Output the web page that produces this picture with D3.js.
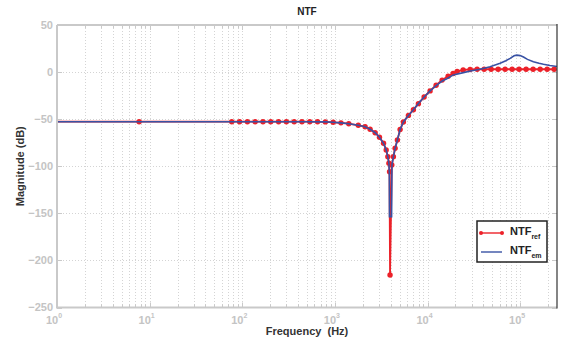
<!DOCTYPE html>
<html>
<head>
<meta charset="utf-8">
<script src="https://cdn.jsdelivr.net/npm/d3@7"></script>
<style>
  body { margin: 0; background: #fff; }
  text { font-family: "Liberation Sans", Arial, sans-serif; }
</style>
</head>
<body>
<div id="chart"></div>
<script>
// NTF magnitude response

// reference NTF (red, with markers)
const refFreq = [1, 7.7, 77, 93.5, 113.6, 137.8, 167.3, 203, 246.6, 299.4, 363.4, 441, 535.5, 650, 789, 958,
  1163, 1412, 1790, 2120, 2400, 2720, 3030, 3350, 3580, 3730, 3830, 3890, 3940,
  4115, 4285, 4470, 4730, 5060, 5490, 6220, 7040, 7970, 9190, 10660, 12380, 14380, 16690, 18900,
  20880, 24250, 28820, 34330, 40860, 48620, 57860, 68860, 81950, 97520, 116000, 138100, 164400,
  195700, 232900];
const refDb = [-52.7, -52.7, -52.7, -52.7, -52.7, -52.7, -52.7, -52.7, -52.7, -52.7, -52.7, -52.7, -52.7, -52.8, -52.9, -53.3,
  -53.9, -54.8, -56.5, -58.0, -60.7, -64.4, -69.2, -75.6, -82.7, -89.8, -96.8, -105.8, -215.5,
  -98.6, -89.8, -80.9, -72.1, -61.0, -53.0, -46.0, -40.0, -33.5, -26.5, -20.0, -14.0, -8.5, -4.5, -1.5,
  0.8, 2.2, 2.8, 3.0, 3.0, 3.0, 3.0, 3.0, 3.0, 3.0, 3.0, 3.0, 3.0,
  3.0, 3.0];

// estimated NTF (blue line)
const emFreq = [1, 500, 789, 958, 1163, 1412, 1790, 2120, 2400, 2720, 3030, 3350, 3580, 3730, 3830, 3870,
  3885, 4095, 4130, 4285, 4470, 4730, 5060, 5490, 6220, 7040, 7970, 9190, 10660, 12380, 14380,
  16150, 19000, 24400, 30000, 37000, 47400, 60800, 70000, 78000, 86000, 92000, 100000, 108600,
  120000, 139000, 160000, 178500, 210000, 250000];
const emDb = [-52.7, -52.7, -52.9, -53.3, -53.9, -54.8, -56.5, -58.0, -60.7, -64.4, -69.2, -75.6, -82.7, -89.8, -96.8, -105.8,
  -153.5, -153.5, -98.6, -89.8, -80.9, -72.1, -61.0, -53.0, -46.0, -40.0, -33.5, -26.5, -20.0, -14.5, -9.5,
  -7.0, -3.0, -0.6, 1.5, 3.0, 5.7, 9.3, 12.0, 14.6, 17.3, 18.0, 17.5, 16.0,
  13.5, 11.0, 9.3, 8.3, 7.0, 6.0];

const yTicks = [50, 0, -50, -100, -150, -200, -250];
const xDecades = [0, 1, 2, 3, 4, 5];
const legendNames = [["NTF", "ref"], ["NTF", "em"]];

const width = 564, height = 345;
const margin = {top: 25, right: 7, bottom: 37.5, left: 57};
const red = "#ec2129", blue = "#3952a4";
const axisGrey = "#c9c9c9", labelGrey = "#c4c4c4";

const svg = d3.select("#chart").append("svg")
  .attr("width", width).attr("height", height);

const x = d3.scaleLog().domain([1, 2.5e5]).range([margin.left, width - margin.right]);
const y = d3.scaleLinear().domain([-250, 50]).range([height - margin.bottom, margin.top]);
const x0 = margin.left, x1 = width - margin.right, y0 = height - margin.bottom, y1 = margin.top;

// minor + major frequency positions for grid
const xGridVals = [];
xDecades.forEach(function(d) {
  for (let m = 1; m < 10; m++) {
    const v = m * Math.pow(10, d);
    if (v <= 2.5e5) xGridVals.push(v);
  }
});

const grid = svg.append("g").attr("stroke", "#d4d4d4").attr("stroke-width", 1)
  .attr("stroke-dasharray", "1,2");
grid.selectAll(".vg").data(xGridVals.filter(v => v > 1)).enter().append("line")
  .attr("x1", d => Math.round(x(d)) + 0.5).attr("x2", d => Math.round(x(d)) + 0.5)
  .attr("y1", y1).attr("y2", y0);
grid.selectAll(".hg").data(yTicks.filter(v => v > -250 && v < 50)).enter().append("line")
  .attr("y1", d => Math.round(y(d)) + 0.5).attr("y2", d => Math.round(y(d)) + 0.5)
  .attr("x1", x0).attr("x2", x1);

// tick marks (inward) on all four sides
const ticks = svg.append("g").attr("stroke", axisGrey).attr("stroke-width", 1);
xGridVals.forEach(function(v) {
  const major = Number.isInteger(Math.log10(v));
  const len = major ? 5 : 3;
  const px = Math.round(x(v)) + 0.5;
  ticks.append("line").attr("x1", px).attr("x2", px).attr("y1", y0).attr("y2", y0 - len);
  ticks.append("line").attr("x1", px).attr("x2", px).attr("y1", y1).attr("y2", y1 + len);
});
yTicks.forEach(function(v) {
  const py = Math.round(y(v)) + 0.5;
  ticks.append("line").attr("x1", x0).attr("x2", x0 + 5).attr("y1", py).attr("y2", py);
  ticks.append("line").attr("x1", x1).attr("x2", x1 - 5).attr("y1", py).attr("y2", py);
});

// reference line + markers
const line = d3.line().x(d => x(d[0])).y(d => y(d[1]));
const refData = refFreq.map((f, i) => [f, refDb[i]]);
const emData = emFreq.map((f, i) => [f, emDb[i]]);

svg.append("path").datum(refData).attr("d", line)
  .attr("fill", "none").attr("stroke", red).attr("stroke-width", 1.8);
// first sample sits on the axis and its marker is hidden there
svg.append("g").selectAll("circle").data(refData.slice(1)).enter().append("circle")
  .attr("cx", d => x(d[0])).attr("cy", d => y(d[1])).attr("r", 2.7)
  .attr("fill", red);
svg.append("path").datum(emData).attr("d", line)
  .attr("fill", "none").attr("stroke", blue).attr("stroke-width", 1.6);

// frame
svg.append("path")
  .attr("d", `M${x0},${y1}H${x1}M${x0},${y1}V${y0}H${x1}`)
  .attr("fill", "none").attr("stroke", axisGrey).attr("stroke-width", 2);
svg.append("line").attr("x1", x1).attr("x2", x1).attr("y1", y1 - 1).attr("y2", y0 + 1)
  .attr("stroke", "#333").attr("stroke-width", 1.2);

// y tick labels
svg.append("g").selectAll("text").data(yTicks).enter().append("text")
  .attr("x", x0 - 4).attr("y", d => y(d)).attr("dy", "0.35em")
  .attr("text-anchor", "end").attr("fill", labelGrey)
  .attr("font-size", 11).attr("font-weight", "bold")
  .text(d => d < 0 ? "\u2212" + Math.abs(d) : d);

// x tick labels: 10^n
const xl = svg.append("g").selectAll("text").data(xDecades).enter().append("text")
  .attr("x", d => x(Math.pow(10, d)) - 3).attr("y", y0 + 16)
  .attr("text-anchor", "middle").attr("fill", labelGrey)
  .attr("font-size", 11).attr("font-weight", "bold");
xl.append("tspan").text("10");
xl.append("tspan").attr("dy", -6).attr("font-size", 7).text(d => d);

// titles
svg.append("text").attr("x", (x0 + x1) / 2).attr("y", 15)
  .attr("text-anchor", "middle").attr("font-size", 10).attr("font-weight", "bold")
  .attr("fill", "#222").text("NTF");
svg.append("text").attr("x", (x0 + x1) / 2).attr("y", 335)
  .attr("text-anchor", "middle").attr("font-size", 11).attr("font-weight", "bold")
  .attr("fill", "#333").attr("xml:space", "preserve").text("Frequency  (Hz)");
svg.append("text").attr("transform", `translate(24,${(y0 + y1) / 2}) rotate(-90)`)
  .attr("text-anchor", "middle").attr("font-size", 11).attr("font-weight", "bold")
  .attr("fill", "#333").text("Magnitude (dB)");

// legend
const lg = svg.append("g").attr("transform", "translate(477,221)");
lg.append("rect").attr("width", 70).attr("height", 41)
  .attr("fill", "#fff").attr("stroke", "#222").attr("stroke-width", 1.5);
const colors = [red, blue];
legendNames.forEach(function(n, i) {
  const ly = 12 + i * 19;
  lg.append("line").attr("x1", 4).attr("x2", 25).attr("y1", ly).attr("y2", ly)
    .attr("stroke", colors[i]).attr("stroke-width", 1.4);
  if (i === 0) {
    lg.selectAll(".lm").data([4, 25]).enter().append("circle")
      .attr("cx", d => d).attr("cy", ly).attr("r", 2).attr("fill", red);
  }
  const t = lg.append("text").attr("x", 33).attr("y", ly + 2)
    .attr("font-size", 11).attr("font-weight", "bold").attr("fill", "#222");
  t.append("tspan").text(n[0]);
  t.append("tspan").attr("dy", 4).attr("font-size", 7).text(n[1]);
});
</script>
</body>
</html>
